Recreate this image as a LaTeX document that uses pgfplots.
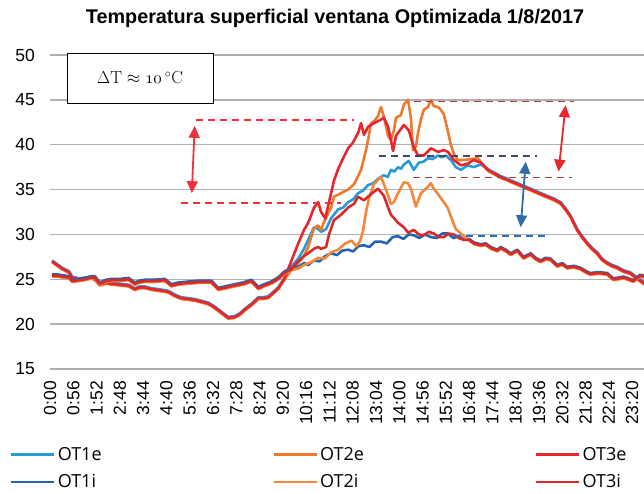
\documentclass[border=0pt]{standalone}
\usepackage{pgfplots}
\pgfplotsset{compat=1.18}
\usepackage{fontspec}
\newfontfamily\arial{Liberation Sans}
\newfontfamily\osans{Open Sans}
\usetikzlibrary{arrows.meta}
\definecolor{cOTae}{HTML}{2A9AD5}
\definecolor{cOTai}{HTML}{2464B0}
\definecolor{cOTbe}{HTML}{EE7A30}
\definecolor{cOTbi}{HTML}{F3883C}
\definecolor{cOTce}{HTML}{E8262E}
\definecolor{cOTci}{HTML}{D82A2A}
\definecolor{cgrid}{HTML}{B0B0B0}
\definecolor{dred}{HTML}{B83A3F}
\definecolor{bred}{HTML}{F0303A}
\definecolor{navy}{HTML}{3B4A6E}
\definecolor{sblue}{HTML}{2F6EA8}
\begin{document}
\begin{tikzpicture}
\useasboundingbox (0pt,0pt) rectangle (644pt,493pt);
\clip (0pt,0pt) rectangle (644pt,493pt);
\begin{axis}[
  at={(50pt,124pt)}, anchor=south west,
  scale only axis, width=600pt, height=314pt,
  xmin=0, xmax=1443, ymin=15, ymax=50,
  ytick={15,20,...,50},
  xtick={0,56,...,1400},
  xticklabels={0:00,0:56,1:52,2:48,3:44,4:40,5:36,6:32,7:28,8:24,9:20,10:16,11:12,12:08,13:04,14:00,14:56,15:52,16:48,17:44,18:40,19:36,20:32,21:28,22:24,23:20},
  xticklabel style={rotate=90, anchor=east, inner sep=0pt},
  xticklabel shift=12pt,
  yticklabel style={anchor=east, inner sep=0pt},
  yticklabel shift=15pt,
  ticklabel style={font=\arial\fontsize{17.5}{20}\selectfont},
  /pgf/number format/assume math mode=true,
  ymajorgrids, major grid style={cgrid, line width=1.4pt},
  axis line style={draw=none},
  major tick length=0pt,
  legend columns=3,
  legend cell align=left,
  legend image code/.code={\draw[#1, line width=2.6pt] (0pt,0pt) -- (35pt,0pt); \path (0pt,0pt) -- (43pt,0pt);},
  legend style={at={(-0.0667,-0.243)}, anchor=north west, draw=none, fill=none, inner sep=0pt,
    font=\osans\fontsize{18}{21}\selectfont, row sep=8.5pt,
    /tikz/every even column/.append style={column sep=169pt}},
  every axis plot/.append style={line width=2.6pt, line join=round}
]
% OT1e
\addplot[cOTae] coordinates {(5,27.1) (17,26.7) (29,26.3) (46,25.9) (53,25.3) (70,25.1) (84,25.2) (100,25.3) (108,25.1) (120,24.5) (135,24.7) (149,24.6) (170,24.5) (189,24.4) (204,24.0) (215,24.2) (228,24.2) (245,24.0) (261,23.9) (275,23.8) (285,23.7) (300,23.3) (316,23.0) (333,22.9) (348,22.8) (365,22.6) (381,22.4) (395,22.0) (412,21.4) (429,20.8) (444,20.9) (456,21.2) (468,21.7) (485,22.3) (501,23.0) (513,23.0) (525,23.1) (537,23.6) (549,24.1) (563,25.1)
(580,26.4) (597,27.3) (611,28.4) (621,29.4) (635,30.8) (645,30.6) (652,30.3) (664,30.6) (676,31.8) (693,32.8) (705,33.0) (717,33.6) (729,33.9) (741,34.6) (753,34.9) (765,35.5) (777,35.7) (789,36.2) (803,36.6) (812,36.4) (820,37.2) (828,37.0) (837,37.5) (844,37.3) (851,37.8) (863,38.2) (870,37.6) (875,37.2) (887,38.0) (898,38.1) (909,38.5) (920,38.4) (933,38.8) (942,38.6) (952,38.8) (964,38.3) (976,37.5) (988,37.2) (1005,37.7) (1019,37.5) (1036,37.8)
(1053,37.3) (1060,37.1) (1076,36.7) (1084,36.5) (1100,36.2) (1115,35.9) (1135,35.5) (1156,35.1) (1176,34.7) (1196,34.3) (1212,34.0) (1228,33.6) (1240,32.9) (1252,32.1) (1268,30.6) (1280,29.8) (1292,29.1) (1304,28.5) (1316,28.0) (1328,27.3) (1340,26.9) (1352,26.6) (1364,26.4) (1380,26.0) (1395,25.8) (1412,25.2) (1430,24.7)};
\addlegendentry{OT1e}
% OT2e
\addplot[cOTbe] coordinates {(5,26.9) (17,26.5) (29,26.1) (46,25.7) (53,25.1) (70,24.9) (84,25.0) (100,25.1) (108,24.9) (120,24.3) (135,24.5) (149,24.4) (170,24.3) (189,24.2) (204,23.8) (215,24.0) (228,24.0) (245,23.8) (261,23.7) (275,23.6) (285,23.5) (300,23.1) (316,22.8) (333,22.7) (348,22.6) (365,22.4) (381,22.2) (395,21.8) (412,21.2) (429,20.6) (444,20.7) (456,21.0) (468,21.5) (485,22.1) (501,22.8) (513,22.8) (525,22.9) (537,23.4) (549,23.9) (563,24.9)
(580,26.0) (597,26.8) (611,27.6) (621,28.6) (635,30.7) (645,31.0) (652,30.5) (659,31.4) (676,33.0) (683,34.2) (700,34.6) (717,35.0) (731,35.6) (741,36.5) (748,37.2) (755,38.5) (760,39.4) (767,41.0) (772,42.4) (779,42.6) (789,43.2) (796,44.2) (803,43.1) (813,41.0) (820,40.5) (827,41.6) (832,43.0) (844,43.3) (851,44.5) (861,45.0) (868,43.0) (873,39.4) (880,39.8) (885,41.3) (892,42.8) (899,43.9) (909,44.2) (916,45.0) (923,44.3) (933,44.2) (940,43.9) (947,43.4) (957,41.5) (964,40.0) (971,39.0) (981,38.3) (995,38.3) (1012,38.4) (1029,38.5) (1036,38.1)
(1053,37.1) (1060,36.9) (1076,36.5) (1084,36.3) (1100,36.0) (1115,35.7) (1135,35.3) (1156,34.9) (1176,34.5) (1196,34.1) (1212,33.8) (1228,33.4) (1240,32.7) (1252,31.9) (1268,30.4) (1280,29.6) (1292,28.9) (1304,28.3) (1316,27.8) (1328,27.1) (1340,26.7) (1352,26.4) (1364,26.2) (1380,25.8) (1395,25.6) (1412,25.0) (1430,24.4)};
\addlegendentry{OT2e}
% OT3e
\addplot[cOTce] coordinates {(5,27.0) (17,26.6) (29,26.2) (46,25.8) (53,25.2) (70,25.0) (84,25.1) (100,25.2) (108,25.0) (120,24.4) (135,24.6) (149,24.5) (170,24.4) (189,24.3) (204,23.9) (215,24.1) (228,24.1) (245,23.9) (261,23.8) (275,23.7) (285,23.6) (300,23.2) (316,22.9) (333,22.8) (348,22.7) (365,22.5) (381,22.3) (395,21.9) (412,21.3) (429,20.7) (444,20.8) (456,21.1) (468,21.6) (485,22.2) (501,22.9) (513,22.9) (525,23.0) (537,23.5) (549,24.0) (563,25.0)
(580,27.0) (597,29.0) (611,30.5) (621,31.3) (635,33.0) (645,33.6) (652,32.5) (662,31.8) (671,33.6) (683,36.0) (693,37.3) (705,38.5) (717,39.6) (728,40.2) (741,41.3) (748,42.4) (755,41.1) (765,42.0) (779,42.4) (796,42.8) (803,43.0) (813,42.0) (820,40.5) (825,39.3) (832,41.0) (851,42.2) (863,41.6) (875,39.7) (885,38.8) (899,38.8) (916,39.6) (933,39.2) (947,39.4) (957,39.2) (971,38.3) (988,37.7) (1005,37.9) (1019,38.3) (1036,38.0)
(1053,37.2) (1060,37.0) (1076,36.6) (1084,36.4) (1100,36.1) (1115,35.8) (1135,35.4) (1156,35.0) (1176,34.6) (1196,34.2) (1212,33.9) (1228,33.5) (1240,32.8) (1252,32.0) (1268,30.5) (1280,29.7) (1292,29.0) (1304,28.4) (1316,27.9) (1328,27.2) (1340,26.8) (1352,26.5) (1364,26.3) (1380,25.9) (1395,25.7) (1412,25.1) (1430,24.5)};
\addlegendentry{OT3e}
% OT1i
\addplot[cOTai] coordinates {(5,25.55) (17,25.55) (29,25.45) (46,25.35) (53,24.95) (70,25.05) (84,25.15) (100,25.35) (108,25.35) (120,24.65) (135,24.95) (149,25.05) (170,25.05) (189,25.15) (204,24.65) (215,24.85) (228,24.95) (250,24.95) (276,25.05) (292,24.45) (310,24.65) (333,24.75) (360,24.85) (388,24.85) (405,24.05) (425,24.25) (444,24.45) (465,24.65) (484,24.95) (501,24.15) (515,24.45) (532,24.75) (550,25.25) (563,25.85) (580,26.25)
(597,26.4) (611,26.8) (621,26.6) (635,27.1) (648,27.0) (662,27.6) (676,27.9) (690,27.7) (703,28.2) (717,28.3) (729,28.1) (742,28.7) (755,28.8) (768,28.6) (782,29.2) (796,29.2) (810,29.0) (824,29.7) (837,29.8) (850,29.5) (863,30.0) (875,29.9) (888,29.6) (902,30.0) (916,29.7) (930,29.6) (943,30.1) (957,30.1) (970,29.6) (983,29.8) (995,29.4)
(1008,29.5) (1020,29.1) (1036,28.9) (1048,29.0) (1060,28.6) (1076,28.3) (1084,28.6) (1096,28.3) (1108,27.9) (1124,28.3) (1139,27.5) (1156,27.9) (1168,27.4) (1180,27.1) (1192,27.4) (1204,27.3) (1220,26.6) (1232,26.8) (1244,26.4) (1260,26.5) (1275,26.3) (1290,25.9) (1299,25.7) (1320,25.8) (1340,25.7) (1355,25.1) (1368,25.2) (1379,25.3) (1392,25.1) (1403,24.9) (1419,25.5) (1430,25.4)};
\addlegendentry{OT1i}
% OT2i
\addplot[cOTbi] coordinates {(5,25.3) (17,25.3) (29,25.2) (46,25.1) (53,24.7) (70,24.8) (84,24.9) (100,25.1) (108,25.1) (120,24.4) (135,24.7) (149,24.8) (170,24.8) (189,24.9) (204,24.4) (215,24.6) (228,24.7) (250,24.7) (276,24.8) (292,24.2) (310,24.4) (333,24.5) (360,24.6) (388,24.6) (405,23.8) (425,24.0) (444,24.2) (465,24.4) (484,24.7) (501,23.9) (515,24.2) (532,24.5) (550,25.0) (563,25.6) (580,26.0)
(597,26.2) (611,26.6) (628,26.9) (645,27.4) (660,27.3) (676,28.0) (693,28.3) (710,29.0) (725,29.3) (737,28.7) (745,29.2) (752,30.2) (760,32.5) (767,34.0) (779,35.6) (789,36.1) (796,36.4) (808,35.0) (820,33.4) (827,33.6) (837,34.6) (851,35.8) (861,35.7) (868,35.1) (880,33.1) (892,34.6) (909,35.3) (916,35.7) (923,35.1) (933,34.5) (947,33.6) (957,32.9) (969,31.4) (976,30.6) (988,30.1) (995,29.8)
(1008,29.3) (1020,28.9) (1036,28.7) (1048,28.8) (1060,28.4) (1076,28.1) (1084,28.4) (1096,28.1) (1108,27.7) (1124,28.1) (1139,27.3) (1156,27.7) (1168,27.2) (1180,26.9) (1192,27.2) (1204,27.1) (1220,26.4) (1232,26.6) (1244,26.2) (1260,26.3) (1275,26.1) (1290,25.7) (1299,25.5) (1320,25.6) (1340,25.5) (1355,24.9) (1368,25.0) (1379,25.1) (1392,24.9) (1403,24.7) (1419,25.3) (1430,25.2)};
\addlegendentry{OT2i}
% OT3i
\addplot[cOTci] coordinates {(5,25.4) (17,25.4) (29,25.3) (46,25.2) (53,24.8) (70,24.9) (84,25.0) (100,25.2) (108,25.2) (120,24.5) (135,24.8) (149,24.9) (170,24.9) (189,25.0) (204,24.5) (215,24.7) (228,24.8) (250,24.8) (276,24.9) (292,24.3) (310,24.5) (333,24.6) (360,24.7) (388,24.7) (405,23.9) (425,24.1) (444,24.3) (465,24.5) (484,24.8) (501,24.0) (515,24.3) (532,24.6) (550,25.1) (563,25.7) (580,26.1)
(597,27.0) (611,27.6) (621,27.9) (635,28.4) (645,28.6) (652,28.4) (664,28.6) (671,30.0) (683,31.6) (700,32.2) (717,33.0) (731,33.4) (741,34.2) (755,33.8) (772,34.5) (789,35.1) (803,34.3) (813,33.0) (820,32.2) (837,31.3) (851,30.8) (861,30.2) (875,30.5) (887,30.0) (899,29.9) (911,30.3) (923,30.1) (935,29.7) (947,29.7) (959,30.1) (971,30.0) (983,29.6) (995,29.4)
(1008,29.4) (1020,29.0) (1036,28.8) (1048,28.9) (1060,28.5) (1076,28.2) (1084,28.5) (1096,28.2) (1108,27.8) (1124,28.2) (1139,27.4) (1156,27.8) (1168,27.3) (1180,27.0) (1192,27.3) (1204,27.2) (1220,26.5) (1232,26.7) (1244,26.3) (1260,26.4) (1275,26.2) (1290,25.8) (1299,25.6) (1320,25.7) (1340,25.6) (1355,25.0) (1368,25.1) (1379,25.2) (1392,25.0) (1403,24.8) (1419,25.4) (1430,25.3)};
\addlegendentry{OT3i}
% annotations
\draw[bred, line width=1.6pt, dash pattern=on 7pt off 5pt] (352,42.75) -- (731,42.75);
\draw[bred, line width=1.6pt, dash pattern=on 7pt off 5pt] (316,33.5) -- (700,33.5);
\draw[bred, line width=1.8pt, {Triangle[length=12pt,width=11pt]}-{Triangle[length=12pt,width=11pt]}] (348,42.1) -- (341,34.6);
\draw[dred, line width=1.6pt, dash pattern=on 7pt off 5pt] (875,44.8) -- (1259,44.8);
\draw[dred, line width=1.6pt, dash pattern=on 7pt off 5pt] (873,36.35) -- (1256,36.35);
\draw[cOTce, line width=1.8pt, {Triangle[length=12pt,width=11pt]}-{Triangle[length=12pt,width=11pt]}] (1240,44.4) -- (1223,37.0);
\draw[navy, line width=1.6pt, dash pattern=on 7pt off 5pt] (791,38.75) -- (1172,38.75);
\draw[sblue, line width=1.6pt, dash pattern=on 7pt off 5pt] (971,29.8) -- (1192,29.8);
\draw[sblue, line width=1.8pt, {Triangle[length=12pt,width=11pt]}-{Triangle[length=12pt,width=11pt]}] (1144,38.1) -- (1132,30.8);
\end{axis}
\node[font=\arial\bfseries\fontsize{19.8}{23}\selectfont] at (335pt,475pt) {Temperatura superficial ventana Optimizada 1/8/2017};
\draw[black, line width=0.8pt, fill=white] (67pt,390pt) rectangle (213pt,440pt);
\node[font=\fontsize{17.5}{20}\selectfont] at (140pt,415pt) {$\Delta\mathrm{T}\approx\mathnormal{10}\,^\circ\mathrm{C}$};
\end{tikzpicture}
\end{document}
